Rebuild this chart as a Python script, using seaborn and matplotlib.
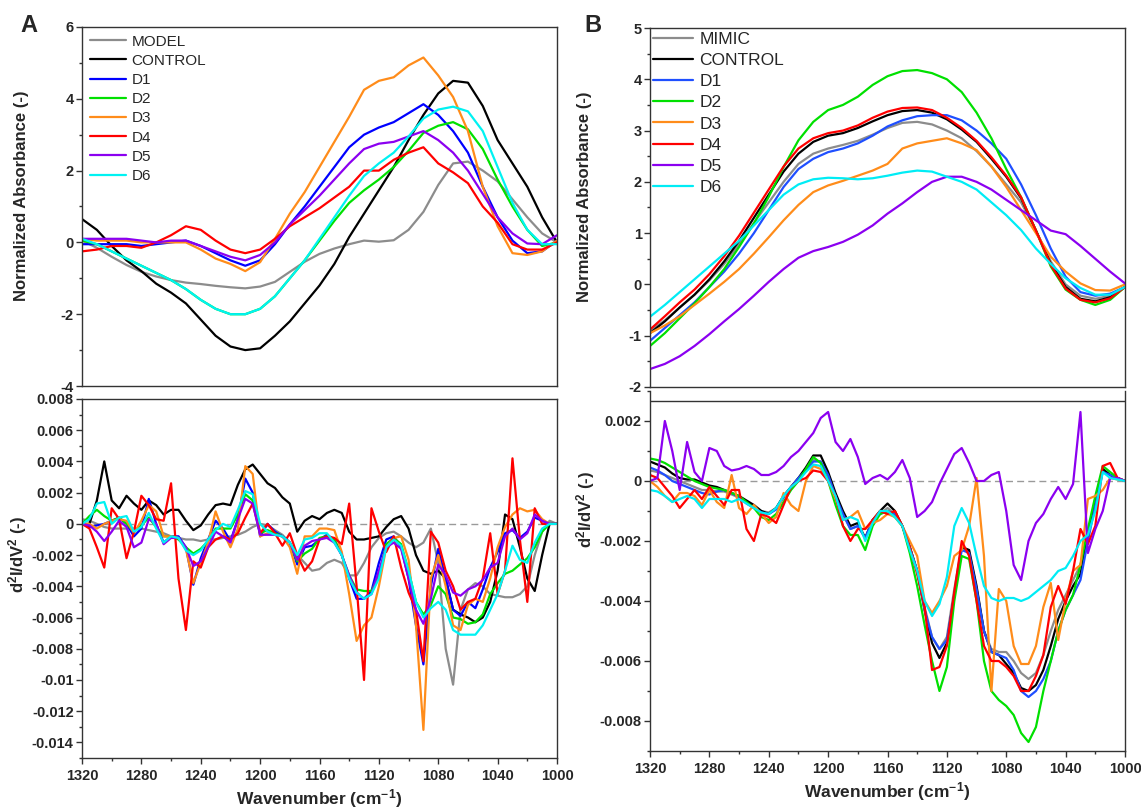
import matplotlib
matplotlib.use("Agg")
import pandas as pd
import matplotlib.pyplot as plt
import seaborn as sns
from matplotlib.ticker import MultipleLocator, FuncFormatter

# =========================
# DATA
# =========================
WN_TOP = [1320, 1310, 1300, 1290, 1280, 1270, 1260, 1250, 1240, 1230, 1220,
          1210, 1200, 1190, 1180, 1170, 1160, 1150, 1140, 1130, 1120, 1110,
          1100, 1090, 1080, 1070, 1060, 1050, 1040, 1030, 1020, 1010, 1000]

WN_BOT = [1320, 1315, 1310, 1305, 1300, 1295, 1290, 1285, 1280, 1275, 1270,
          1265, 1260, 1255, 1250, 1245, 1240, 1235, 1230, 1225, 1220, 1215,
          1210, 1205, 1200, 1195, 1190, 1185, 1180, 1175, 1170, 1165, 1160,
          1155, 1150, 1145, 1140, 1135, 1130, 1125, 1120, 1115, 1110, 1105,
          1100, 1095, 1090, 1085, 1080, 1075, 1070, 1065, 1060, 1055, 1050,
          1045, 1040, 1035, 1030, 1025, 1020, 1015, 1010, 1005, 1000]

NAMES_A = ["MODEL", "CONTROL", "D1", "D2", "D3", "D4", "D5", "D6"]
NAMES_B = ["MIMIC", "CONTROL", "D1", "D2", "D3", "D4", "D5", "D6"]
COLORS_A = ["#8c8c8c", "#000000", "#0000ff", "#00e000", "#ff8c1a", "#ff0000", "#8b00f0", "#00f2f2"]
COLORS_B = ["#8c8c8c", "#000000", "#1f4fff", "#00e000", "#ff8c1a", "#ff0000", "#8b00f0", "#00ecf5"]

# panel A, normalized absorbance
A_TOP_MODEL = [0.05, -0.15, -0.4, -0.63, -0.82, -0.95, -1.05, -1.12, -1.16, -1.21, -1.25,
               -1.28, -1.23, -1.1, -0.82, -0.54, -0.32, -0.17, -0.05, 0.05, 0.02, 0.06,
               0.35, 0.85, 1.6, 2.2, 2.25, 2.0, 1.7, 1.2, 0.7, 0.25, 0.0]
A_TOP_CONTROL = [0.65, 0.35, -0.1, -0.5, -0.8, -1.15, -1.4, -1.7, -2.15, -2.6, -2.9,
                 -3.0, -2.95, -2.6, -2.2, -1.7, -1.2, -0.6, 0.15, 0.8, 1.45, 2.1,
                 2.85, 3.55, 4.15, 4.5, 4.45, 3.8, 2.85, 2.2, 1.55, 0.7, 0.0]
A_TOP_D1 = [-0.05, -0.05, -0.05, -0.05, -0.1, -0.05, 0.0, 0.05, -0.1, -0.3, -0.5,
            -0.65, -0.5, -0.05, 0.5, 1.0, 1.55, 2.1, 2.65, 3.0, 3.2, 3.35,
            3.6, 3.85, 3.55, 3.1, 2.5, 1.55, 0.7, 0.05, -0.3, -0.25, 0.05]
A_TOP_D2 = [0.05, -0.05, -0.25, -0.45, -0.65, -0.85, -1.05, -1.3, -1.6, -1.85, -2.0,
            -2.0, -1.85, -1.5, -1.0, -0.5, 0.05, 0.6, 1.1, 1.45, 1.75, 2.1,
            2.55, 3.05, 3.25, 3.35, 3.15, 2.6, 1.75, 1.0, 0.35, -0.1, 0.0]
A_TOP_D3 = [0.1, 0.05, 0.05, 0.05, 0.0, 0.0, 0.0, 0.0, -0.2, -0.45, -0.6,
            -0.8, -0.55, 0.1, 0.8, 1.4, 2.1, 2.8, 3.5, 4.25, 4.5, 4.6,
            4.93, 5.15, 4.65, 4.05, 3.1, 1.55, 0.45, -0.3, -0.35, -0.25, 0.05]
A_TOP_D4 = [-0.25, -0.2, -0.1, -0.1, -0.15, 0.0, 0.2, 0.45, 0.35, 0.05, -0.2,
            -0.3, -0.2, 0.1, 0.45, 0.7, 0.95, 1.25, 1.55, 2.0, 2.0, 2.3,
            2.5, 2.65, 2.2, 1.95, 1.65, 1.0, 0.55, -0.05, -0.2, -0.2, 0.0]
A_TOP_D5 = [0.1, 0.1, 0.1, 0.1, 0.05, 0.0, 0.05, 0.05, -0.1, -0.25, -0.4,
            -0.5, -0.35, 0.0, 0.5, 0.9, 1.3, 1.75, 2.2, 2.6, 2.75, 2.8,
            2.95, 3.1, 2.85, 2.5, 2.0, 1.35, 0.7, 0.25, -0.03, -0.05, 0.2]
A_TOP_D6 = [0.1, -0.05, -0.25, -0.45, -0.65, -0.85, -1.05, -1.3, -1.6, -1.85, -2.0,
            -2.0, -1.85, -1.5, -1.0, -0.5, 0.1, 0.7, 1.3, 1.85, 2.2, 2.5,
            2.95, 3.45, 3.7, 3.78, 3.65, 3.1, 2.1, 1.1, 0.35, -0.05, -0.05]

# panel A, second derivative (x 1e-3)
A_BOT_MODEL = [0.3, 0.2, 0.0, -0.2, -0.3, -0.3, -0.3, -0.3, -0.3, -0.4, -0.5, -0.6, -0.8,
               -0.9, -1.0, -1.0, -1.1, -1.0, -1.0, -0.9, -0.8, -0.7, -0.5, -0.2, 0.0,
               -0.1, -0.4, -0.7, -1.2, -2.0, -2.5, -3.0, -2.9, -2.5, -2.3, -2.5, -3.3,
               -3.3, -2.5, -1.5, -0.9, -0.6, -0.5, -0.8, -1.2, -1.5, -1.2, -0.3, -2.5,
               -8.0, -10.3, -5.5, -4.2, -3.8, -4.0, -4.5, -4.6, -4.7, -4.7, -4.5, -4.0,
               -2.0, -0.5, 0.2, 0.0]
A_BOT_CONTROL = [0.0, 0.0, 1.5, 4.0, 1.5, 1.0, 1.8, 1.3, 0.9, 1.5, 1.2, 0.6, 0.9,
                 0.9, 0.2, -0.4, -0.1, 0.6, 1.2, 1.3, 1.2, 2.5, 3.5, 3.8, 3.2,
                 2.6, 2.3, 1.7, 1.3, -0.5, 0.2, 0.5, 0.3, 0.7, 0.9, 0.7, -0.5,
                 -1.0, -1.0, -0.9, -0.8, -0.2, 0.3, 0.5, -0.3, -2.0, -3.0, -3.2, -3.0,
                 -3.5, -5.5, -5.8, -6.0, -6.3, -6.0, -5.0, -3.0, 0.6, 0.3, -1.5, -3.5,
                 -4.3, -2.0, 0.0, 0.0]
A_BOT_D1 = [0.0, -0.2, -0.1, 0.0, 0.2, 0.4, 0.0, -0.8, -0.3, 1.6, 0.0, -1.2, -0.8,
            -0.8, -1.5, -3.9, -2.2, -1.0, 0.2, -0.3, -1.1, 0.3, 2.9, 2.0, -0.8,
            0.0, -0.5, -0.8, -1.2, -2.6, -1.5, -1.4, -1.0, -0.7, -1.0, -2.0, -3.5,
            -4.8, -4.8, -4.3, -2.5, -1.0, -0.8, -1.5, -3.5, -6.5, -9.0, -4.0, -1.6,
            -3.5, -5.5, -5.9, -5.0, -5.4, -4.2, -2.8, -1.8, -0.6, -0.4, -0.9, -0.5,
            0.4, 0.2, 0.0, 0.0]
A_BOT_D2 = [0.0, 0.5, 0.9, 0.5, 0.2, 0.4, 0.0, -0.5, -0.1, 0.4, -0.2, -0.8, -0.8,
            -1.0, -1.5, -1.9, -1.6, -1.1, -0.3, -0.3, -0.3, 0.6, 1.9, 1.5, -0.6,
            -0.4, -0.6, -0.8, -1.2, -2.4, -1.9, -1.6, -0.9, -0.8, -1.0, -2.0, -3.3,
            -4.2, -4.3, -4.3, -3.3, -1.3, -0.9, -1.3, -3.0, -5.0, -5.8, -5.2, -4.0,
            -4.5, -6.0, -6.1, -6.4, -6.3, -5.8, -4.5, -3.8, -3.2, -3.0, -2.6, -2.2,
            -1.5, -0.5, 0.0, 0.0]
A_BOT_D3 = [0.0, 0.0, -0.3, 0.0, 0.2, 0.3, 0.2, -0.6, 0.2, 1.2, 0.8, -0.8, -0.8,
            -0.9, -1.6, -3.8, -2.5, -1.2, 0.8, -0.5, -1.5, -0.3, 3.7, 3.2, -0.8,
            -0.6, -0.7, -0.8, -1.5, -3.2, -0.8, -0.8, -0.3, -0.3, -0.4, -1.8, -4.5,
            -7.5, -6.5, -6.0, -4.0, -1.5, -0.9, -0.8, -2.3, -6.5, -13.2, -3.5, -2.0,
            -4.0, -6.5, -6.8, -5.2, -4.8, -5.0, -3.5, -1.5, -0.2, 0.6, 1.0, 0.8,
            0.9, 0.3, 0.0, 0.0]
A_BOT_D4 = [0.0, -0.3, -1.5, -2.8, 1.0, 0.3, -2.2, -0.5, 1.8, 1.2, 0.3, 0.2, 2.6,
            -3.5, -6.8, -2.4, -2.8, -1.5, -1.0, -0.8, -1.0, -0.6, 0.4, 1.3, -0.6,
            0.0, -0.6, -1.4, -0.6, -2.0, -3.0, -2.4, -1.0, -0.8, -0.9, -1.3, 1.3,
            -4.0, -10.0, 1.0, -0.5, -1.8, -0.8, -2.8, -4.4, -5.5, -8.8, -0.5, -1.2,
            -3.0, -4.0, -5.5, -5.0, -4.8, -3.5, -0.6, -4.5, -3.0, 4.2, -1.0, -5.0,
            1.0, 0.0, 0.0, 0.0]
A_BOT_D5 = [0.0, -0.1, -0.5, -1.1, -0.5, 0.2, -0.2, -1.5, -1.2, 0.3, 0.0, -1.3, -0.9,
            -0.9, -1.5, -2.7, -2.4, -1.5, -0.5, -0.8, -1.2, 0.3, 1.6, 1.3, -0.7,
            -0.7, -0.7, -0.8, -1.2, -2.3, -1.4, -1.1, -1.0, -0.9, -1.2, -2.0, -3.3,
            -4.4, -4.8, -4.5, -3.0, -1.5, -1.2, -1.6, -3.5, -5.5, -6.4, -4.8, -2.6,
            -3.3, -4.4, -4.6, -4.2, -4.0, -3.6, -2.8, -2.5, -0.8, -0.3, -1.0, -0.6,
            0.6, 0.2, 0.0, 0.0]
A_BOT_D6 = [0.0, 0.3, 1.3, 1.4, 0.0, 0.4, 0.5, -0.5, -0.2, 0.7, -0.3, -1.2, -0.8,
            -0.9, -1.7, -2.0, -1.7, -1.0, -0.4, 0.0, -0.2, 0.9, 2.1, 1.9, 0.0,
            -0.5, -0.7, -0.8, -1.2, -2.0, -1.0, -0.9, -0.6, -0.6, -1.2, -2.0, -3.5,
            -4.4, -4.8, -4.5, -3.5, -1.5, -1.0, -1.4, -3.0, -5.0, -6.0, -5.4, -5.0,
            -5.5, -6.8, -7.1, -7.1, -7.1, -6.5, -5.5, -4.5, -3.0, -1.4, -2.3, -2.5,
            -1.2, -0.3, 0.0, 0.0]

# panel B, normalized absorbance
B_TOP_MIMIC = [-0.9, -0.7, -0.45, -0.2, 0.08, 0.4, 0.78, 1.2, 1.6, 2.0, 2.35,
               2.55, 2.65, 2.72, 2.8, 2.92, 3.05, 3.15, 3.17, 3.12, 3.0, 2.85,
               2.6, 2.3, 1.95, 1.6, 1.05, 0.45, 0.0, -0.22, -0.28, -0.22, -0.05]
B_TOP_CONTROL = [-0.95, -0.72, -0.45, -0.2, 0.1, 0.45, 0.85, 1.3, 1.75, 2.2, 2.55,
                 2.78, 2.9, 2.95, 3.05, 3.18, 3.3, 3.38, 3.4, 3.35, 3.22, 3.02,
                 2.78, 2.45, 2.1, 1.68, 1.05, 0.4, -0.05, -0.28, -0.33, -0.25, -0.05]
B_TOP_D1 = [-1.1, -0.85, -0.6, -0.35, -0.05, 0.25, 0.6, 1.0, 1.45, 1.9, 2.25,
            2.45, 2.58, 2.65, 2.75, 2.9, 3.08, 3.2, 3.28, 3.3, 3.3, 3.2,
            3.0, 2.75, 2.45, 1.95, 1.35, 0.7, 0.15, -0.15, -0.22, -0.18, -0.05]
B_TOP_D2 = [-1.2, -0.95, -0.66, -0.37, -0.05, 0.3, 0.73, 1.19, 1.71, 2.29, 2.81,
            3.17, 3.4, 3.5, 3.66, 3.89, 4.06, 4.16, 4.18, 4.12, 4.0, 3.75,
            3.35, 2.85, 2.25, 1.7, 1.05, 0.35, -0.1, -0.3, -0.4, -0.3, -0.05]
B_TOP_D3 = [-0.95, -0.8, -0.62, -0.4, -0.18, 0.05, 0.3, 0.6, 0.92, 1.25, 1.55,
            1.8, 1.93, 2.02, 2.12, 2.22, 2.35, 2.65, 2.75, 2.8, 2.85, 2.75,
            2.62, 2.3, 1.9, 1.45, 1.0, 0.54, 0.25, 0.02, -0.11, -0.12, 0.0]
B_TOP_D4 = [-0.88, -0.62, -0.35, -0.1, 0.2, 0.55, 0.95, 1.4, 1.85, 2.3, 2.65,
            2.85, 2.95, 3.0, 3.1, 3.25, 3.37, 3.44, 3.45, 3.4, 3.25, 3.05,
            2.8, 2.48, 2.12, 1.7, 1.05, 0.38, -0.08, -0.3, -0.35, -0.27, -0.05]
B_TOP_D5 = [-1.65, -1.55, -1.4, -1.2, -0.97, -0.72, -0.48, -0.22, 0.05, 0.3, 0.52,
            0.65, 0.73, 0.83, 0.97, 1.15, 1.38, 1.58, 1.8, 2.0, 2.1, 2.1,
            2.0, 1.85, 1.65, 1.45, 1.25, 1.05, 0.98, 0.75, 0.5, 0.25, 0.02]
B_TOP_D6 = [-0.63, -0.4, -0.15, 0.1, 0.35, 0.6, 0.85, 1.15, 1.45, 1.75, 1.95,
            2.05, 2.08, 2.07, 2.05, 2.07, 2.12, 2.18, 2.22, 2.2, 2.1, 2.0,
            1.85, 1.6, 1.35, 1.06, 0.7, 0.4, 0.12, -0.07, -0.2, -0.2, -0.05]

# panel B, second derivative (x 1e-3)
B_BOT_MIMIC = [0.35, 0.3, 0.2, 0.1, 0.0, -0.1, -0.2, -0.3, -0.3, -0.35, -0.35, -0.45, -0.55,
               -0.7, -0.85, -1.0, -1.05, -0.9, -0.5, -0.2, 0.1, 0.35, 0.7, 0.65, 0.2,
               -0.5, -1.1, -1.6, -1.5, -1.9, -1.3, -1.1, -0.9, -1.1, -1.5, -2.2, -3.0,
               -4.2, -5.2, -5.6, -5.2, -3.6, -2.2, -2.4, -3.6, -5.0, -5.6, -5.7, -5.7,
               -6.0, -6.4, -6.6, -6.4, -5.8, -5.0, -4.3, -3.8, -3.3, -2.8, -1.8, -0.7,
               0.4, 0.2, 0.1, 0.0]
B_BOT_CONTROL = [0.65, 0.55, 0.45, 0.25, 0.1, 0.05, 0.05, -0.05, -0.15, -0.2, -0.3, -0.4, -0.5,
                 -0.65, -0.8, -1.0, -1.1, -0.9, -0.5, -0.2, 0.1, 0.45, 0.85, 0.85, 0.3,
                 -0.4, -1.0, -1.5, -1.4, -1.9, -1.3, -1.0, -0.75, -1.0, -1.5, -2.2, -3.0,
                 -4.3, -5.4, -5.9, -5.4, -3.8, -2.2, -2.3, -3.5, -5.0, -5.7, -5.8, -6.1,
                 -6.4, -6.9, -7.0, -6.8, -6.3, -5.5, -4.6, -4.0, -3.5, -3.1, -1.8, -0.6,
                 0.4, 0.2, 0.1, 0.0]
B_BOT_D1 = [0.45, 0.35, 0.2, 0.0, -0.1, -0.2, -0.3, -0.4, -0.45, -0.35, -0.3, -0.4, -0.55,
            -0.75, -0.9, -1.05, -1.1, -0.95, -0.55, -0.2, 0.1, 0.35, 0.65, 0.65, 0.2,
            -0.5, -1.1, -1.6, -1.5, -1.9, -1.3, -1.1, -1.0, -1.1, -1.5, -2.2, -3.0,
            -4.3, -5.2, -5.6, -5.3, -3.8, -2.3, -2.4, -3.6, -5.0, -5.7, -5.8, -5.9,
            -6.3, -7.0, -7.2, -7.0, -6.6, -6.0, -5.0, -4.3, -3.8, -3.3, -2.0, -0.8,
            0.3, 0.2, 0.1, 0.0]
B_BOT_D2 = [0.75, 0.7, 0.6, 0.45, 0.3, 0.15, 0.0, -0.1, -0.2, -0.25, -0.3, -0.4, -0.5,
            -0.7, -0.9, -1.2, -1.3, -1.1, -0.7, -0.3, 0.0, 0.4, 0.8, 0.6, 0.0,
            -0.8, -1.5, -1.8, -1.8, -2.3, -1.5, -1.1, -1.0, -1.2, -1.5, -2.4, -3.5,
            -4.8, -6.0, -7.0, -6.2, -4.0, -2.5, -2.6, -4.0, -6.0, -7.0, -7.3, -7.5,
            -7.8, -8.4, -8.7, -8.2, -7.0, -6.0, -5.0, -4.3, -3.8, -2.8, -1.6, -0.5,
            0.5, 0.3, 0.1, 0.0]
B_BOT_D3 = [0.0, -0.2, -0.5, -0.7, -0.4, -0.4, -0.5, -0.8, -0.3, -0.7, -0.9, 0.2, -0.9,
            -1.1, -0.8, -1.1, -1.4, -1.2, -0.4, -0.8, -1.0, 0.0, 0.5, 0.4, 0.0,
            -0.6, -1.3, -1.2, -1.0, -1.6, -1.4, -1.3, -1.1, -1.2, -1.5, -2.0, -2.5,
            -4.0, -4.4, -4.0, -3.5, -2.5, -2.3, -1.5, 0.1, -2.5, -7.0, -3.6, -4.0,
            -5.5, -6.1, -6.1, -5.5, -4.2, -3.4, -5.3, -4.0, -3.0, -2.8, -0.6, -0.5,
            -0.3, 0.1, 0.05, 0.0]
B_BOT_D4 = [0.2, 0.1, -0.2, -0.5, -0.9, -0.6, -0.3, -0.6, -0.2, -0.5, -0.8, -0.3, -0.3,
            -1.6, -2.0, -1.1, -1.2, -1.4, -0.8, -0.2, 0.0, 0.1, 0.35, 0.3, 0.0,
            -0.5, -1.5, -2.0, -1.6, -1.6, -1.3, -1.0, -1.1, -1.0, -1.5, -2.2, -3.1,
            -4.2, -6.3, -6.2, -5.5, -3.7, -2.0, -2.5, -4.0, -5.5, -6.0, -6.0, -6.2,
            -6.5, -7.0, -7.0, -6.5, -5.8, -4.2, -3.5, -4.1, -3.0, -1.6, -2.1, -1.5,
            0.5, 0.6, 0.1, 0.0]
B_BOT_D5 = [0.0, 0.1, 2.0, 1.0, -0.3, 1.3, 0.3, 0.0, 1.1, 1.0, 0.5, 0.35, 0.4,
            0.5, 0.4, 0.2, 0.2, 0.3, 0.5, 0.8, 1.0, 1.3, 1.6, 2.1, 2.3,
            1.3, 1.0, 1.4, 0.8, -0.1, 0.1, 0.2, 0.05, 0.3, 0.7, 0.1, -1.2,
            -1.0, -0.7, -0.1, 0.4, 0.9, 1.1, 0.6, 0.0, 0.0, 0.2, 0.3, -1.0,
            -2.8, -3.3, -2.0, -1.4, -1.1, -0.6, -0.2, -0.6, -0.1, 2.3, -2.4, -1.6,
            -1.0, 0.1, 0.1, 0.0]
B_BOT_D6 = [-0.3, -0.35, -0.5, -0.7, -0.6, -0.5, -0.6, -0.9, -0.6, -0.6, -0.6, -0.7, -0.6,
            -0.75, -0.9, -1.05, -1.1, -0.9, -0.5, -0.2, 0.0, 0.3, 0.55, 0.5, 0.0,
            -0.5, -1.3, -1.2, -1.3, -2.0, -1.4, -1.0, -1.0, -1.2, -1.5, -2.3, -3.0,
            -4.0, -4.5, -4.1, -3.2, -1.5, -0.9, -1.4, -2.5, -3.5, -3.9, -4.0, -3.9,
            -3.9, -4.0, -3.9, -3.7, -3.5, -3.3, -3.0, -2.9, -2.5, -2.0, -1.8, -1.0,
            0.3, 0.1, 0.05, 0.0]

A_TOP = [A_TOP_MODEL, A_TOP_CONTROL, A_TOP_D1, A_TOP_D2, A_TOP_D3, A_TOP_D4, A_TOP_D5, A_TOP_D6]
A_BOT = [A_BOT_MODEL, A_BOT_CONTROL, A_BOT_D1, A_BOT_D2, A_BOT_D3, A_BOT_D4, A_BOT_D5, A_BOT_D6]
B_TOP = [B_TOP_MIMIC, B_TOP_CONTROL, B_TOP_D1, B_TOP_D2, B_TOP_D3, B_TOP_D4, B_TOP_D5, B_TOP_D6]
B_BOT = [B_BOT_MIMIC, B_BOT_CONTROL, B_BOT_D1, B_BOT_D2, B_BOT_D3, B_BOT_D4, B_BOT_D5, B_BOT_D6]
DERIV_UNIT = 1e-3


def long_frame(wn, series, names, scale=1.0):
    rows = []
    for name, vals in zip(names, series):
        for w, v in zip(wn, vals):
            rows.append({"wn": w, "val": v * scale, "series": name})
    return pd.DataFrame(rows)


def fmt(v, pos):
    v = round(v, 6)
    if abs(v) < 1e-12:
        return "0"
    return f"{v:g}"


def style_axis(ax, ylim, ymaj, ymin, show_x):
    ax.set_xlim(1320, 1000)
    ax.set_ylim(*ylim)
    ax.yaxis.set_major_locator(MultipleLocator(ymaj))
    ax.yaxis.set_minor_locator(MultipleLocator(ymin))
    ax.yaxis.set_major_formatter(FuncFormatter(fmt))
    ax.xaxis.set_major_locator(MultipleLocator(40))
    ax.xaxis.set_minor_locator(MultipleLocator(20))
    ax.tick_params(axis="both", which="major", direction="out", length=4, width=1.0,
                   labelsize=10.5, pad=2, color="#333333")
    ax.tick_params(axis="both", which="minor", direction="out", length=2.5, width=1.0,
                   color="#333333")
    ax.tick_params(axis="x", which="major", pad=4)
    if not show_x:
        ax.tick_params(axis="x", which="both", bottom=False, labelbottom=False)
    for sp in ax.spines.values():
        sp.set_linewidth(1.0)
        sp.set_color("#333333")


sns.set_style("ticks")
plt.rcParams["font.family"] = ["Liberation Sans", "DejaVu Sans"]
plt.rcParams["font.weight"] = "bold"
plt.rcParams["mathtext.fontset"] = "custom"
plt.rcParams["mathtext.rm"] = "Liberation Sans:bold"
plt.rcParams["mathtext.bf"] = "Liberation Sans:bold"
plt.rcParams["mathtext.default"] = "rm"

fig = plt.figure(figsize=(11.41, 8.09), dpi=100)
W, H = 1141, 809
axA1 = fig.add_axes([82 / W, 1 - 386 / H, 475 / W, 359 / H])
axA2 = fig.add_axes([82 / W, 1 - 758 / H, 475 / W, 359 / H])
axB1 = fig.add_axes([650 / W, 1 - 387 / H, 475 / W, 359 / H])
axB2 = fig.add_axes([650 / W, 1 - 751 / H, 475 / W, 360 / H])

pal_a = dict(zip(NAMES_A, COLORS_A))
pal_b = dict(zip(NAMES_B, COLORS_B))

panels = [
    (axA1, long_frame(WN_TOP, A_TOP, NAMES_A), NAMES_A, pal_a, True),
    (axA2, long_frame(WN_BOT, A_BOT, NAMES_A, DERIV_UNIT), NAMES_A, pal_a, False),
    (axB1, long_frame(WN_TOP, B_TOP, NAMES_B), NAMES_B, pal_b, True),
    (axB2, long_frame(WN_BOT, B_BOT, NAMES_B, DERIV_UNIT), NAMES_B, pal_b, False),
]
for ax, df, names, pal, leg in panels:
    if not leg:
        ax.axhline(0, color="#9a9a9a", lw=1.0, ls=(0, (5, 3)), zorder=0)
    sns.lineplot(data=df, x="wn", y="val", hue="series", hue_order=names, palette=pal,
                 linewidth=1.6, sort=False, estimator=None, legend=leg, ax=ax)
    ax.set_xlabel("")
    ax.set_ylabel("")

style_axis(axA1, (-4, 6), 2, 1, False)
style_axis(axA2, (-0.015, 0.008), 0.002, 0.001, True)
style_axis(axB1, (-2, 5), 1, 0.5, False)
style_axis(axB2, (-0.009, 0.003), 0.002, 0.001, True)

# panel B lower frame: top line sits a little under the axis end
axB2.spines["top"].set_visible(False)
axB2.axhline(0.00266, color="#333333", lw=1.0)

axA1.legend(loc="upper left", bbox_to_anchor=(0.0, 1.0), frameon=False,
            prop={"size": 11, "weight": "normal"}, handlelength=2.4,
            handletextpad=0.35, labelspacing=0.34, borderaxespad=0.3, borderpad=0.2)
axB1.legend(loc="upper left", bbox_to_anchor=(0.0, 1.0), frameon=False,
            prop={"size": 12.5, "weight": "normal"}, handlelength=2.3,
            handletextpad=0.35, labelspacing=0.35, borderaxespad=0.1, borderpad=0.1)

axA1.set_ylabel("Normalized Absorbance (-)", fontsize=12, fontweight="bold")
axB1.set_ylabel("Normalized Absorbance (-)", fontsize=12, fontweight="bold")
axA2.set_ylabel("d$^{2}$I/dV$^{2}$ (-)", fontsize=12, fontweight="bold")
axB2.set_ylabel("d$^{2}$I/dV$^{2}$ (-)", fontsize=12, fontweight="bold")
axA1.yaxis.set_label_coords(-0.112, 0.53)
axB1.yaxis.set_label_coords(-0.122, 0.53)
axA2.yaxis.set_label_coords(-0.112, 0.568)
axB2.yaxis.set_label_coords(-0.112, 0.67)

axA2.set_xlabel("Wavenumber (cm$^{-1}$)", fontsize=12.5, fontweight="bold", labelpad=3)
axB2.set_xlabel("Wavenumber (cm$^{-1}$)", fontsize=12.5, fontweight="bold", labelpad=3)

fig.text(29 / W, 1 - 25 / H, "A", fontsize=17, fontweight="bold", ha="center", va="center")
fig.text(593 / W, 1 - 25 / H, "B", fontsize=17, fontweight="bold", ha="center", va="center")

# bold tick labels (ticks are final at this point)
fig.canvas.draw()
for ax in (axA1, axA2, axB1, axB2):
    for lab in ax.get_xticklabels() + ax.get_yticklabels():
        lab.set_fontweight("bold")

fig.savefig("out.png", dpi=100)
